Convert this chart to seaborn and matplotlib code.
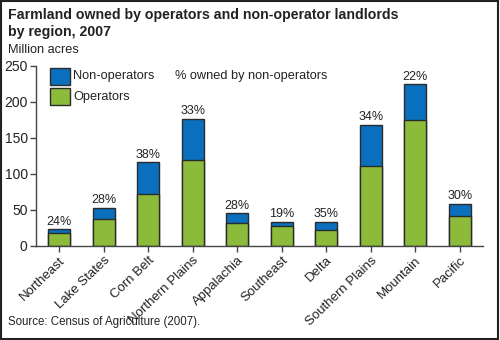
import matplotlib
matplotlib.use("Agg")
import matplotlib.pyplot as plt
from matplotlib.patches import Rectangle
import seaborn as sns
import pandas as pd

regions = ["Northeast", "Lake States", "Corn Belt", "Northern Plains", "Appalachia",
           "Southeast", "Delta", "Southern Plains", "Mountain", "Pacific"]
operators = [17.5, 38, 72, 119, 32.5, 27.5, 22, 111, 175.5, 41]
non_operators = [5.5, 15, 44.5, 58, 13, 6.5, 12, 57.5, 49.5, 17.5]
pct_labels = ["24%", "28%", "38%", "33%", "28%", "19%", "35%", "34%", "22%", "30%"]
yticks = [0, 50, 100, 150, 200, 250]

BLUE = "#0a6fbd"
GREEN = "#8cbb3c"
EDGE = "#2b2b2b"
TEXT = "#222222"

sns.set_theme(style="white")
plt.rcParams["font.family"] = ["Liberation Sans", "DejaVu Sans"]

df = pd.DataFrame({"region": regions, "operators": operators,
                   "non_operators": non_operators})
df["total"] = df["operators"] + df["non_operators"]

fig = plt.figure(figsize=(5.0, 3.4), dpi=100)
ax = fig.add_axes([0.072, 0.2765, 0.894, 0.5295])

# Total height in blue, operators drawn on top in green
sns.barplot(data=df, x="region", y="total", color=BLUE, width=0.49,
            edgecolor=EDGE, linewidth=1.0, saturation=1, ax=ax)
sns.barplot(data=df, x="region", y="operators", color=GREEN, width=0.49,
            edgecolor=EDGE, linewidth=1.0, saturation=1, ax=ax)

for i, (t, lab) in enumerate(zip(df["total"], pct_labels)):
    ax.text(i, t + 2, lab, ha="center", va="bottom", fontsize=9, color=TEXT)

ax.set_xlim(-0.52, 9.52)
ax.set_ylim(0, 250)
ax.set_yticks(yticks)
ax.set_yticklabels([str(v) for v in yticks], fontsize=10, color=TEXT)
ax.set_xticks(range(len(regions)))
ax.set_xticklabels(regions, rotation=44, ha="right", rotation_mode="anchor",
                   fontsize=9.5, color=TEXT)
ax.set_xlabel("")
ax.set_ylabel("")
for s in ["top", "right"]:
    ax.spines[s].set_visible(False)
for s in ["left", "bottom"]:
    ax.spines[s].set_color("#444444")
    ax.spines[s].set_linewidth(1.0)
ax.tick_params(axis="both", which="both", direction="out", length=4, width=1,
               color="#444444", pad=2, left=True, bottom=True)

# Titles and notes
fig.text(0.016, 1 - 15 / 340, "Farmland owned by operators and non-operator landlords",
         ha="left", va="center", fontsize=10.2, fontweight="bold", color=TEXT)
fig.text(0.016, 1 - 32 / 340, "by region, 2007",
         ha="left", va="center", fontsize=10.2, fontweight="bold", color=TEXT)
fig.text(0.016, 1 - 50 / 340, "Million acres", ha="left", va="center", fontsize=9.2,
         color=TEXT)
fig.text(0.016, 1 - 322 / 340, "Source: Census of Agriculture (2007).", ha="left",
         va="center", fontsize=8.3, color=TEXT)

# Legend
fig.patches.append(Rectangle((0.1, 1 - 85 / 340), 0.04, 17 / 340, transform=fig.transFigure,
                             facecolor=BLUE, edgecolor=EDGE, linewidth=1.0))
fig.patches.append(Rectangle((0.1, 1 - 105 / 340), 0.04, 17 / 340, transform=fig.transFigure,
                             facecolor=GREEN, edgecolor=EDGE, linewidth=1.0))
fig.text(0.146, 1 - 76 / 340, "Non-operators", ha="left", va="center", fontsize=9.2,
         color=TEXT)
fig.text(0.146, 1 - 97 / 340, "Operators", ha="left", va="center", fontsize=9.2, color=TEXT)
fig.text(0.35, 1 - 76 / 340, "% owned by non-operators", ha="left", va="center",
         fontsize=9.2, color=TEXT)

# Frame around the figure
fig.patches.append(Rectangle((0.002, 0.004), 0.993, 0.993, transform=fig.transFigure,
                             fill=False, edgecolor="#222222", linewidth=1.5))

fig.savefig("out.png", dpi=100)
